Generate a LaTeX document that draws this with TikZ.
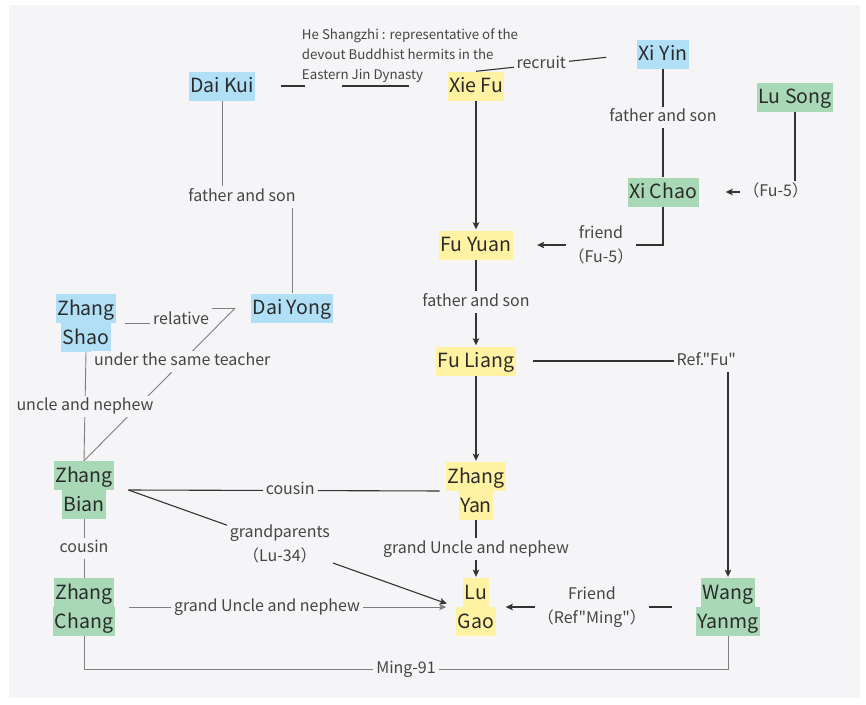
\documentclass[tikz,border=0pt]{standalone}
\usepackage{fontspec}
\setmainfont{Noto Sans CJK SC}[Ligatures=TeXOff]
\usetikzlibrary{arrows.meta}
\definecolor{bg}{HTML}{F5F5F7}
\definecolor{cblue}{HTML}{B1DFF5}
\definecolor{cyel}{HTML}{FFF3A3}
\definecolor{cgreen}{HTML}{A8D8B6}
\definecolor{txt}{HTML}{2A2A2A}
\definecolor{labtxt}{HTML}{454545}
\definecolor{linedark}{HTML}{333333}
\definecolor{linelight}{HTML}{7E7E7E}
\newcommand\hlb[2]{{\setlength{\fboxsep}{0pt}\colorbox{#1}{\rule[-8pt]{0pt}{29pt}\hspace{1.5pt}#2\hspace{1.5pt}}}}
\begin{document}
\begin{tikzpicture}[x=1pt,y=-1pt,
  person/.style={inner sep=0pt, text=txt, font=\fontsize{19.5}{29}\selectfont, align=center},
  lab/.style={fill=bg, inner xsep=3pt, inner ysep=3pt, text=labtxt, font=\fontsize{16}{23.5}\selectfont, align=center},
  labone/.style={lab, text height=11.8pt, text depth=3.8pt},
  dk/.style={draw=linedark, line width=1.1pt},
  lt/.style={draw=linelight, line width=0.9pt},
  arr/.style={-{Stealth[length=7pt,width=6.5pt,inset=1.5pt]}}]
\useasboundingbox (0,0) rectangle (866,704);
\fill[white] (0,0) rectangle (866,704);
\fill[bg] (9,5) rectangle (860,698);

% people
\node[person] (daikui) at (222,86) {\hlb{cblue}{Dai Kui}};
\node[person] (xiefu) at (476,86) {\hlb{cyel}{Xie Fu}};
\node[person] (xiyin) at (663,54) {\hlb{cblue}{Xi Yin}};
\node[person] (lusong) at (795,97) {\hlb{cgreen}{Lu Song}};
\node[person] (xichao) at (663,192) {\hlb{cgreen}{Xi Chao}};
\node[person] (fuyuan) at (476,245) {\hlb{cyel}{Fu Yuan}};
\node[person] (daiyong) at (292,308) {\hlb{cblue}{Dai Yong}};
\node[person] (zhangshao) at (86,323) {\hlb{cblue}{Zhang}\\\hlb{cblue}{Shao}};
\node[person] (fuliang) at (476,361) {\hlb{cyel}{Fu Liang}};
\node[person] (zhangyan) at (476,491) {\hlb{cyel}{Zhang}\\\hlb{cyel}{Yan}};
\node[person] (lugao) at (476,607) {\hlb{cyel}{Lu}\\\hlb{cyel}{Gao}};
\node[person] (wang) at (728,607) {\hlb{cgreen}{Wang}\\\hlb{cgreen}{Yanmg}};
\node[person] (zhangbian) at (84,490) {\hlb{cgreen}{Zhang}\\\hlb{cgreen}{Bian}};
\node[person] (zhangchang) at (84,607) {\hlb{cgreen}{Zhang}\\\hlb{cgreen}{Chang}};

% helper coordinates
\coordinate (dyin) at ([xshift=-16pt]daiyong.west);
\coordinate (zbout) at ([xshift=14pt]zhangbian.east);
\coordinate (dkm) at (242,197);

% Dai Kui -- Xie Fu with note
\draw[dk] ([xshift=25pt]daikui.east) -- ([xshift=49pt]daikui.east)
          ([xshift=-105pt]xiefu.west) -- ([xshift=-38pt]xiefu.west);
\node[font=\fontsize{13.3}{20}\selectfont, text=labtxt, align=left, inner sep=0pt] (hs) at (410,56)
  {He Shangzhi : representative of the\\devout Buddhist hermits in the\\Eastern Jin Dynasty};

% recruit
\draw[dk, shorten >=31pt] (xiefu.north) -- (xiyin.west) node[labone, pos=0.405] {recruit};
% Xi Yin -- Xi Chao
\draw[dk] (xiyin.south) -- (xichao.north) node[labone, pos=0.45] {father and son};
% Lu Song -> Xi Chao
\draw[dk, arr, shorten >=27pt] (lusong.south) |- (xichao.east) node[labone, pos=0.6] {（Fu-5）};
% Xi Chao -> Fu Yuan
\draw[dk, arr, shorten >=24pt] (xichao.south) |- (fuyuan.east) node[lab, pos=0.707] {friend\\（Fu-5）};
% Xie Fu -> Fu Yuan
\draw[dk, arr, shorten >=1pt] (xiefu.south) -- (fuyuan.north);
% Fu Yuan -> Fu Liang
\draw[dk, arr, shorten >=1pt] (fuyuan.south) -- (fuliang.north) node[labone, pos=0.49] {father and son};
% Fu Liang -> Zhang Yan
\draw[dk, arr, shorten >=1pt] (fuliang.south) -- (zhangyan.north);
% Fu Liang -> Wang Yanmg
\draw[dk, arr, shorten <=17pt, shorten >=1pt] (fuliang.east) -| (wang.north) node[labone, pos=0.449] {Ref."Fu"};
% Dai Kui -- Dai Yong
\draw[lt] (daikui.south) |- (dkm) node[labone] {father and son} -| (daiyong.north);
% Zhang Shao -- Dai Yong
\draw[lt, shorten <=9pt] (zhangshao.east) -- ++(65,0) |- (dyin)
  node[labone, inner ysep=6pt] at (181,320) {relative};
% Zhang Bian -- Dai Yong
\draw[lt] (zhangbian.north) -- (dyin) node[labone, pos=0.65] {under the same teacher};
% Zhang Shao -- Zhang Bian
\draw[lt] (zhangshao.south) -- (zhangbian.north) node[labone, pos=0.5] {uncle and nephew};
% Zhang Bian -- Zhang Yan
\draw[dk, shorten >=6pt] (zbout) -- (zhangyan.west) node[labone, pos=0.51] {cousin};
% Zhang Bian -> Lu Gao
\draw[dk, arr, shorten >=10pt] (zbout) -- (lugao.west) node[lab, pos=0.462] {grandparents\\（Lu-34）};
% Zhang Bian -- Zhang Chang
\draw[lt] (zhangbian.south) -- (zhangchang.north) node[labone, midway] {cousin};
% Zhang Chang -> Lu Gao
\draw[lt, arr, shorten <=14pt, shorten >=10pt] (zhangchang.east) -- (lugao.west) node[labone, pos=0.446] {grand Uncle and nephew};
% Zhang Yan -> Lu Gao
\draw[dk, arr, shorten >=1pt] (zhangyan.south) -- (lugao.north) node[labone, pos=0.5] {grand Uncle and nephew};
% Wang Yanmg -> Lu Gao
\draw[dk, arr, shorten <=24pt, shorten >=10pt] (wang.west) -- (lugao.east) node[lab, pos=0.52] {Friend\\（Ref"Ming"）};
% Ming-91
\draw[lt] (zhangchang.south) -- ++(0,33) -| (wang.south) node[labone, pos=0.25] {Ming-91};
\end{tikzpicture}
\end{document}
